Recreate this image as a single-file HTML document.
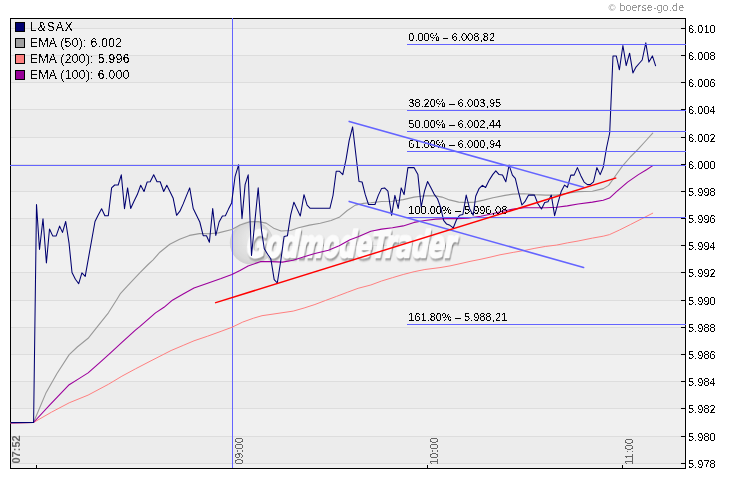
<!DOCTYPE html>
<html><head><meta charset="utf-8"><style>
html,body{margin:0;padding:0;background:#fff;}
body{width:730px;height:481px;overflow:hidden;position:relative;}
svg{position:absolute;left:0;top:0;display:block;}
text{font-family:"Liberation Sans",Arial,sans-serif;}
</style></head><body>
<svg width="730" height="481" viewBox="0 0 730 481">
<defs>
<radialGradient id="ball" cx="0.5" cy="0.5" r="0.5" fx="0.66" fy="0.3">
<stop offset="0" stop-color="#f7f7f7"/><stop offset="0.45" stop-color="#e3e3e3"/><stop offset="0.85" stop-color="#d6d6d6"/><stop offset="1" stop-color="#c9c9c9"/>
</radialGradient>
<filter id="crisp" x="0" y="0" width="100%" height="100%" filterUnits="userSpaceOnUse">
<feComponentTransfer><feFuncA type="discrete" tableValues="0 1"/></feComponentTransfer>
</filter>
<filter id="shadow" x="-10%" y="-20%" width="130%" height="160%">
<feGaussianBlur in="SourceAlpha" stdDeviation="1.15"/><feOffset dx="1.3" dy="2.2" result="b"/>
<feFlood flood-color="#6e6e6e" flood-opacity="0.95"/><feComposite in2="b" operator="in"/>
<feMerge><feMergeNode/><feMergeNode in="SourceGraphic"/></feMerge>
</filter>
</defs>
<rect x="0" y="0" width="730" height="481" fill="#fff"/>
<text x="608.6" y="10.6" font-size="9.6" fill="#9a9a9a">©</text><text x="619.4" y="11" font-size="10.5" fill="#9a9a9a" letter-spacing="0.25" filter="url(#crisp)">boerse-go.de</text>
<rect x="11" y="19" width="674" height="449" fill="#ececec" shape-rendering="crispEdges"/>
<g fill="#f0f0f0" shape-rendering="crispEdges"><rect x="11" y="29" width="674" height="26"/><rect x="11" y="83" width="674" height="26"/><rect x="11" y="138" width="674" height="26"/><rect x="11" y="192" width="674" height="26"/><rect x="11" y="246" width="674" height="26"/><rect x="11" y="301" width="674" height="26"/><rect x="11" y="355" width="674" height="26"/><rect x="11" y="409" width="674" height="27"/><rect x="11" y="464" width="674" height="4"/></g>
<g stroke="#dddddd" stroke-width="1" shape-rendering="crispEdges"><line x1="11" y1="28.5" x2="685" y2="28.5"/><line x1="11" y1="55.5" x2="685" y2="55.5"/><line x1="11" y1="82.5" x2="685" y2="82.5"/><line x1="11" y1="109.5" x2="685" y2="109.5"/><line x1="11" y1="137.5" x2="685" y2="137.5"/><line x1="11" y1="164.5" x2="685" y2="164.5"/><line x1="11" y1="191.5" x2="685" y2="191.5"/><line x1="11" y1="218.5" x2="685" y2="218.5"/><line x1="11" y1="245.5" x2="685" y2="245.5"/><line x1="11" y1="272.5" x2="685" y2="272.5"/><line x1="11" y1="300.5" x2="685" y2="300.5"/><line x1="11" y1="327.5" x2="685" y2="327.5"/><line x1="11" y1="354.5" x2="685" y2="354.5"/><line x1="11" y1="381.5" x2="685" y2="381.5"/><line x1="11" y1="408.5" x2="685" y2="408.5"/><line x1="11" y1="436.5" x2="685" y2="436.5"/><line x1="11" y1="463.5" x2="685" y2="463.5"/></g>
<!-- watermark -->
<g opacity="0.8">
<circle cx="251.6" cy="242.8" r="21.8" fill="url(#ball)"/>
<text x="0" y="0" style="font-family:'DejaVu Sans',sans-serif" font-size="37" font-weight="bold" font-style="italic" fill="#ffffff" stroke="#ffffff" stroke-width="2" stroke-linejoin="round" letter-spacing="-0.8" filter="url(#shadow)" transform="translate(246.2,257.2) scale(0.65,1) skewX(-6)">GodmodeTrader</text>
</g>
<!-- frame -->
<g shape-rendering="crispEdges">
<rect x="10.5" y="18.5" width="675" height="450" fill="none" stroke="#000" stroke-width="1"/>
<g stroke="#000" stroke-width="1"><line x1="681" y1="28.5" x2="685" y2="28.5"/><line x1="681" y1="55.5" x2="685" y2="55.5"/><line x1="681" y1="82.5" x2="685" y2="82.5"/><line x1="681" y1="109.5" x2="685" y2="109.5"/><line x1="681" y1="137.5" x2="685" y2="137.5"/><line x1="681" y1="164.5" x2="685" y2="164.5"/><line x1="681" y1="191.5" x2="685" y2="191.5"/><line x1="681" y1="218.5" x2="685" y2="218.5"/><line x1="681" y1="245.5" x2="685" y2="245.5"/><line x1="681" y1="272.5" x2="685" y2="272.5"/><line x1="681" y1="300.5" x2="685" y2="300.5"/><line x1="681" y1="327.5" x2="685" y2="327.5"/><line x1="681" y1="354.5" x2="685" y2="354.5"/><line x1="681" y1="381.5" x2="685" y2="381.5"/><line x1="681" y1="408.5" x2="685" y2="408.5"/><line x1="681" y1="436.5" x2="685" y2="436.5"/><line x1="681" y1="463.5" x2="685" y2="463.5"/>
<line x1="36.5" y1="465" x2="36.5" y2="468"/>
<line x1="427.5" y1="465" x2="427.5" y2="468"/>
<line x1="622.5" y1="465" x2="622.5" y2="468"/>
</g>
</g>
<line x1="232.5" y1="18" x2="232.5" y2="468" stroke="#6464ff" stroke-width="1" shape-rendering="crispEdges"/>
<!-- EMAs -->
<g fill="none" stroke-linejoin="round" stroke-linecap="round">
<polyline points="11,423 33.5,422.5 51.6,412.1 69.2,402.8 88.1,395.1 108.4,384.3 121.9,376.2 135.4,368.9 150,361.3 171.1,350.5 183.2,345.4 194,340.8 207.6,336.2 221.1,331.3 231.9,327.3 242.7,322.08 253.5,318.2 262,315.7 275,313.8 293.2,311.1 304.1,308 314.9,304.5 325.7,300.4 336.5,296.4 347.3,292.3 358.1,288.3 370.8,285 381.6,281 392.4,277.7 403.2,274.5 414.1,271.7 424.9,269.5 440,267.6 450,265.9 460,263.7 470,261.4 480,259.4 490,257.2 500,254.8 513.2,252.4 524.1,250.5 534.9,248.3 545.7,246.4 556.5,245.1 567.3,242.9 578.1,241 592.4,238.1 603.2,236.2 609.5,234.6 619.5,230 630.3,224.6 641.1,219.1 652.7,213.2" stroke="#ff8080" stroke-width="1"/>
<polyline points="11,423 33.5,422.5 46.2,392.4 57,373.5 69.2,354.6 77.3,347 88.1,338.3 97.6,326.3 108.4,312.8 116.5,300 120.6,293.3 127.5,285.8 140,272.7 148.1,264.5 153.1,259.8 159.9,252.2 169.8,244.2 179.6,239.3 189.5,235.4 199.4,233.6 209.3,233.7 218.4,232.9 231.9,229.5 240,225.1 250,221.8 258.1,221.6 266.2,223.1 274.3,228.6 281.1,231 290.5,230.5 298.6,227.8 309.5,225.1 320.3,223.2 331.1,220.5 339.2,217.3 347.3,210.5 355.4,205.1 363.5,203.4 370.8,202.8 381.6,201.5 392.4,201.3 403.2,199.6 414.1,197.1 424.9,195.8 435.7,195.9 442,197.1 449.4,199.9 458.7,202.1 466.5,202.6 474.3,202.1 483.6,200.1 493,197.7 505,195.4 513.2,194.1 524.1,193.7 534.9,194.6 545.7,195.1 556.5,195.1 567.3,193.2 578.1,191.6 592.4,191.3 603.2,188.6 608.6,185.4 614.1,177.8 622.2,166.4 630.3,157 638.4,148.9 646.5,140 652.7,133.2" stroke="#999999" stroke-width="1.1"/>
<polyline points="11,423 33.5,422.5 50.3,404.3 69.2,384.7 78.6,378.9 88.1,372.9 100.3,362.1 111.1,352.4 121.9,342.4 135.4,330.2 140,326.4 155.5,312.9 164,307.3 172.4,300.2 183.2,294 194,288.1 207.6,283.2 221.1,278.6 231.9,274.6 240,270.5 248.1,265.9 260.8,261.6 271.6,261.6 282.4,262.1 293.2,260.2 304.1,256.7 314.9,253.5 328.4,250.2 339.2,245.7 350,239.8 358.1,236.7 370.8,231.3 381.6,229.1 392.4,227.8 403.2,225.9 414.1,222.4 424.9,220.5 435.7,219.1 446.5,218.6 457.3,218.6 468.1,218.1 480.8,216.2 491.6,214 502.4,211.3 513.2,209.1 524.1,207.8 534.9,207.8 545.7,207.8 556.5,207.3 567.3,205.9 578.1,204 592.4,202.1 603.2,200.2 609.5,198.1 616.8,191.3 627.6,182.1 638.4,174.6 646.5,169.7 652.4,165.9" stroke="#9c009c" stroke-width="1.1"/>
</g>
<g font-size="11" fill="#000" filter="url(#crisp)"><text x="408.3" y="41">0.00% – 6.008<tspan dx="0.5">,</tspan>82</text><text x="408.3" y="107">38.20% – 6.003<tspan dx="0.5">,</tspan>95</text><text x="408.3" y="128">50.00% – 6.002<tspan dx="0.5">,</tspan>44</text><text x="408.3" y="148">61.80% – 6.000<tspan dx="0.5">,</tspan>94</text><text x="408.3" y="214">100.00% – 5.996<tspan dx="0.5">,</tspan>08</text><text x="408.3" y="321">161.80% – 5.988<tspan dx="0.5">,</tspan>21</text></g>
<polyline points="11,422.5 33.6,422.5 36.5,204.5 39.5,249.5 43,218.8 46.4,263 49.5,229 52.7,235.9 56.2,235.9 59.6,226.1 62.5,232.4 65.7,221.5 69,242.8 72,272.5 75.4,279.3 78.7,283.7 81.9,272.8 85.2,276.4 95,221.5 98.1,215.3 101.6,208.7 104.9,215.8 108.3,215.8 111.6,187.9 114.7,185 118.2,185 121.3,174.8 124.5,208.7 127.6,187.9 130.7,208.5 134,201.2 137.3,194.6 140.7,185.2 144,191.5 147.2,181.9 150.2,181.7 153.7,174.8 157,181.7 160.2,181.7 163.7,191.5 166.8,185.2 169.9,191.5 173.2,198.3 176.6,215.3 179.9,211.2 183.2,203.9 186.5,195.6 189.7,187.9 193.2,208.5 196.5,215.3 199.8,222 203.2,235.7 206.5,235.7 209.4,242.3 212.7,208.5 215.8,235.5 219.1,222 222.4,216.1 225.4,215.7 228.5,209.1 231.6,202.9 235.1,176.3 238.6,164.8 242,218.8 245.1,184.6 248.2,174.8 251.5,255.5 258.2,187.7 261.5,230.5 264.3,248.8 267.6,254.3 270.8,258.7 274.2,279.7 277.3,283 280.8,260.5 284.1,236.5 287.4,235.8 290.7,214.8 293.9,202.2 297.1,209.1 300.3,216 304,194.7 307.1,205.2 310.2,208.3 329.9,208.3 333,195.5 336.2,171.2 339.3,171.2 342.8,174.7 346.1,159.1 349.2,140.4 352.6,126.9 355.9,155 359,181.5 362.1,182 365.2,194.4 368.5,204.5 375,204.5 378.3,195.4 381.6,188.4 384.6,187.9 387.9,191.2 391.6,215.3 394.9,195.4 398.2,208.4 401.2,187.9 404.1,194.6 407.9,167.6 414,167.6 417.9,174.6 421.2,207 424.5,191.2 427.6,181.5 430.8,187.4 434.1,194.1 437.5,198.7 440.8,207.9 443.6,220.3 446.6,224.1 449.9,225.3 453.3,227.8 456.6,219.5 459.6,215.3 462.9,214.5 466.2,195.1 469.6,208.7 473.2,215.3 475.7,196.2 479,188.7 482.4,185.4 485.6,187.5 489,180.5 492.7,174.6 495.8,170.8 499.1,174.6 502.5,175.1 505.8,181.8 509.1,165.1 512.4,175.1 515.3,178.4 518.3,191.2 521.9,205 524.9,201.7 528.6,195.1 534.5,195.1 537.9,203.7 541.5,209 544.7,202.5 548,201.7 551.3,195.1 554.6,215.7 558,202.9 561.3,191.2 564.6,185.1 567.4,187.4 570.8,175.1 574.1,175.1 577.4,167.6 580.7,175.4 584.1,182.1 587.4,184.6 590.2,184.6 593.5,181.8 596.9,167.6 600.2,174.6 603.3,167 606.5,148 609.7,133 613,55.9 616.3,55.9 619.4,69.8 622.9,45.5 626.2,65.6 629.6,53.2 632.9,72.9 636,67.1 639.1,63.5 642.2,60 645.8,42.8 648.9,62.1 652.4,55.9 655.7,66.2" fill="none" stroke="#000070" stroke-width="1.05" stroke-linejoin="round"/>
<!-- fib -->
<g stroke="#6464ff" stroke-width="1" shape-rendering="crispEdges"><line x1="407" y1="44.5" x2="686" y2="44.5"/><line x1="407" y1="110.5" x2="686" y2="110.5"/><line x1="407" y1="131.5" x2="686" y2="131.5"/><line x1="407" y1="151.5" x2="686" y2="151.5"/><line x1="407" y1="217.5" x2="686" y2="217.5"/><line x1="407" y1="324.5" x2="686" y2="324.5"/>
<line x1="10" y1="165.5" x2="686" y2="165.5"/>
</g>
<!-- channel + trend -->
<g stroke-linecap="round" fill="none">
<line x1="349.2" y1="121.4" x2="583.7" y2="187.3" stroke="#6464ff" stroke-width="1.6"/>
<line x1="349.2" y1="201.4" x2="583.6" y2="267.5" stroke="#6464ff" stroke-width="1.6"/>
<line x1="215" y1="302.9" x2="616.3" y2="177.9" stroke="#ff0000" stroke-width="1.45" stroke-linecap="butt"/>
</g>
<g font-size="11" fill="#000" filter="url(#crisp)"><text x="688.1" y="33">6.010</text><text x="688.1" y="60">6.008</text><text x="688.1" y="87">6.006</text><text x="688.1" y="114">6.004</text><text x="688.1" y="142">6.002</text><text x="688.1" y="169">6.000</text><text x="688.1" y="196">5.998</text><text x="688.1" y="223">5.996</text><text x="688.1" y="250">5.994</text><text x="688.1" y="277">5.992</text><text x="688.1" y="305">5.990</text><text x="688.1" y="332">5.988</text><text x="688.1" y="359">5.986</text><text x="688.1" y="386">5.984</text><text x="688.1" y="413">5.982</text><text x="688.1" y="441">5.980</text><text x="688.1" y="468">5.978</text></g>
<text transform="translate(20.3,463.5) rotate(-90)" font-size="11" fill="#666" font-weight="bold">07:52</text>
<g font-size="11" fill="#666" filter="url(#crisp)">
<text transform="translate(243.2,464.75) rotate(-90)">09:00</text>
<text transform="translate(438,464.75) rotate(-90)">10:00</text>
<text transform="translate(633.2,464.75) rotate(-90)">11:00</text>
</g>
<!-- legend -->
<g shape-rendering="crispEdges">
<rect x="15.5" y="22.5" width="9" height="9" fill="#000070" stroke="#000"/>
<rect x="15.5" y="38.5" width="9" height="9" fill="#a0a0a0" stroke="#000"/>
<rect x="15.5" y="54.5" width="9" height="9" fill="#ff8080" stroke="#000"/>
<rect x="15.5" y="70.5" width="9" height="9" fill="#990099" stroke="#000"/>
</g>
<g font-size="12" fill="#000" filter="url(#crisp)">
<text x="30" y="31" letter-spacing="1">L&amp;SAX</text>
<text x="30" y="47" letter-spacing="0.38">EMA (50): 6.002</text>
<text x="30" y="63" letter-spacing="0.4">EMA (200): 5.996</text>
<text x="30" y="79" letter-spacing="0.4">EMA (100): 6.000</text>
</g>
</svg>
</body></html>
